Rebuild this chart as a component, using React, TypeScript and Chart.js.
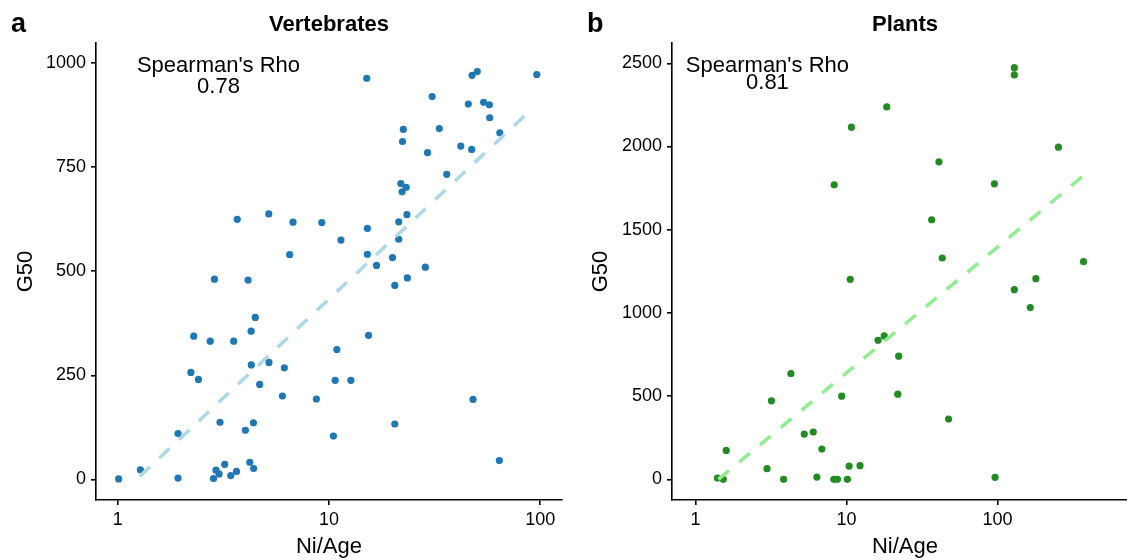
import React, { useEffect, useRef } from "react";
import { Chart, registerables } from "chart.js";

Chart.register(...registerables);

const FONT = '"Liberation Sans", Arial, Helvetica, sans-serif';

// ---------- Data ----------
const vertX = [
  3.68, 5.19, 6.76, 6.52, 2.87, 4.14, 4.48, 4.28, 2.29, 2.74, 3.54, 2.22, 2.41, 4.29, 5.2, 6.15,
  4.7, 6.02, 3.05, 4.39, 4.02, 1.93, 1.28, 1.01, 1.93, 3.21, 2.92, 3.02, 2.84, 3.43, 3.65, 4.22,
  4.4, 20.5, 23.5, 15.4, 10.9, 10.7, 12.7, 8.72, 48.1, 20.5, 10.5, 64.1, 15.1, 47.6, 50.4, 96.4,
  30.8, 45.7, 54.0, 57.5, 57.7, 64.4, 22.5, 22.3, 33.3, 42.1, 47.4, 29.3, 36.1, 21.9, 23.2, 22.2,
  23.4, 21.4, 21.4, 20.0, 28.6, 16.8, 15.2, 15.2, 11.4, 9.25,
];
const vertY = [
  625, 638, 618, 540, 481, 479, 389, 356, 344, 332, 332, 257, 240, 275, 281, 268,
  228, 200, 137, 136, 118, 110, 23, 1, 3, 36, 22, 13, 2, 9, 19, 41,
  26, 466, 484, 346, 312, 238, 238, 193, 192, 133, 104, 45, 964, 971, 980, 973,
  920, 902, 906, 900, 869, 833, 841, 812, 843, 801, 793, 785, 733, 711, 702, 691,
  636, 619, 577, 533, 510, 514, 541, 603, 575, 617,
];

const plantX = [
  10.6, 4.29, 3.19, 9.31, 5.26, 6.03, 6.88, 1.6, 2.98, 3.84, 6.37, 8.25, 8.72, 10.15, 10.42, 12.3,
  1.4, 1.53, 179.7, 129.4, 165, 16.2, 17.8, 22.2, 21.9, 47.5, 96.5, 10.8, 8.3, 129.4, 129.4, 18.5,
  253.6, 41.0, 95.5, 36.7, 43.1, 372,
];
const plantY = [
  1202, 636, 472, 500, 272, 284, 182, 174, 64, 0, 14, 0, 0, 0, 80, 82,
  8, 0, 1206, 1140, 1032, 836, 862, 740, 512, 362, 12, 2116, 1770, 2474, 2430, 2238,
  1996, 1908, 1776, 1560, 1330, 1308,
];

const vertTrendX = [1.27, 87.9];
const vertTrendY = [7, 882];
const plantTrendX = [1.42, 372];
const plantTrendY = [0, 1826];

const xTickValues = [1, 10, 100];
const vertYTicks = [0, 250, 500, 750, 1000];
const plantYTicks = [0, 500, 1000, 1500, 2000, 2500];

const panelLetters = ["a", "b"];
const panelTitles = ["Vertebrates", "Plants"];
const rhoLabel = "Spearman's Rho";
const rhoValues = ["0.78", "0.81"];
const rhoAnchorX = 3;
const xAxisTitle = "Ni/Age";
const yAxisTitle = "G50";

const toPoints = (xs: number[], ys: number[]) => xs.map((x, i) => ({ x, y: ys[i] }));

const textPlugin = {
  id: "panelText",
  afterDraw(chart: any, _args: any, opts: any) {
    const { ctx, chartArea, scales } = chart;
    ctx.save();
    ctx.fillStyle = "#000";
    ctx.textBaseline = "alphabetic";
    ctx.textAlign = "left";
    ctx.font = `bold 27px ${FONT}`;
    ctx.fillText(opts.letter, opts.letterX, 32);
    ctx.textAlign = "center";
    ctx.font = `bold 22px ${FONT}`;
    ctx.fillText(opts.title, (chartArea.left + chartArea.right) / 2, 31);
    ctx.font = `22px ${FONT}`;
    const ax = scales.x.getPixelForValue(opts.annotX);
    ctx.fillText(rhoLabel, ax, 72);
    ctx.fillText(opts.rho, ax, opts.rhoBaseline);
    ctx.restore();
  },
};

type PanelCfg = {
  width: number;
  yAxisWidth: number;
  padRight: number;
  pts: { x: number; y: number }[];
  trend: { x: number; y: number }[];
  pointColor: string;
  lineColor: string;
  xMin: number;
  xMax: number;
  yMin: number;
  yMax: number;
  yTicks: number[];
  letter: string;
  letterX: number;
  title: string;
  rho: string;
  rhoBaseline: number;
};

function Panel({ cfg, left }: { cfg: PanelCfg; left: number }) {
  const ref = useRef<HTMLCanvasElement>(null);
  useEffect(() => {
    if (!ref.current) return;
    const axisColor = "#000";
    const chart = new Chart(ref.current, {
      type: "scatter",
      data: {
        datasets: [
          {
            type: "line",
            data: cfg.trend,
            borderColor: cfg.lineColor,
            borderWidth: 3.5,
            borderDash: [14, 13],
            pointRadius: 0,
            fill: false,
            order: 0,
          } as any,
          {
            type: "scatter",
            data: cfg.pts,
            backgroundColor: cfg.pointColor,
            borderWidth: 0,
            pointRadius: 3.6,
            order: 1,
          },
        ],
      },
      options: {
        responsive: false,
        animation: false,
        devicePixelRatio: 1,
        layout: { padding: { top: 43, right: cfg.padRight, left: 0, bottom: 0 } },
        plugins: {
          legend: { display: false },
          tooltip: { enabled: false },
          panelText: {
            letter: cfg.letter,
            letterX: cfg.letterX,
            title: cfg.title,
            rho: cfg.rho,
            rhoBaseline: cfg.rhoBaseline,
            annotX: rhoAnchorX,
          },
        } as any,
        scales: {
          x: {
            type: "logarithmic",
            position: "bottom",
            min: cfg.xMin,
            max: cfg.xMax,
            afterBuildTicks: (s: any) => {
              s.ticks = xTickValues.map((v) => ({ value: v }));
            },
            afterFit: (s: any) => {
              s.height = 60;
            },
            ticks: {
              callback: (v: any) => String(v),
              color: "#000",
              font: { family: FONT, size: 18 },
              padding: 4,
              maxRotation: 0,
              autoSkip: false,
            },
            grid: {
              display: true,
              drawOnChartArea: false,
              drawTicks: true,
              tickLength: 5,
              color: axisColor,
              lineWidth: 1.6,
            },
            border: { display: true, color: axisColor, width: 1.6 },
            title: {
              display: true,
              text: xAxisTitle,
              color: "#000",
              font: { family: FONT, size: 22, lineHeight: 1 },
              padding: { top: 0, bottom: 2 },
            },
          },
          y: {
            type: "linear",
            position: "left",
            min: cfg.yMin,
            max: cfg.yMax,
            afterBuildTicks: (s: any) => {
              s.ticks = cfg.yTicks.map((v) => ({ value: v }));
            },
            afterFit: (s: any) => {
              s.width = cfg.yAxisWidth;
            },
            ticks: {
              callback: (v: any) => String(v),
              color: "#000",
              font: { family: FONT, size: 18 },
              padding: 5,
              autoSkip: false,
            },
            grid: {
              display: true,
              drawOnChartArea: false,
              drawTicks: true,
              tickLength: 5,
              color: axisColor,
              lineWidth: 1.6,
            },
            border: { display: true, color: axisColor, width: 1.6 },
            title: {
              display: true,
              text: yAxisTitle,
              color: "#000",
              font: { family: FONT, size: 22, lineHeight: 1 },
              padding: { top: 15, bottom: 0 },
            },
          },
        },
      },
      plugins: [textPlugin],
    });
    return () => chart.destroy();
  }, [cfg]);
  return (
    <canvas
      ref={ref}
      width={cfg.width}
      height={560}
      style={{ position: "absolute", left, top: 0, width: cfg.width, height: 560 }}
    />
  );
}

const panelA: PanelCfg = {
  width: 580,
  yAxisWidth: 96,
  padRight: 18,
  pts: toPoints(vertX, vertY),
  trend: toPoints(vertTrendX, vertTrendY),
  pointColor: "#1F77B4",
  lineColor: "#ADD8E6",
  xMin: 0.789,
  xMax: 126.9,
  yMin: -49.7,
  yMax: 1048.7,
  yTicks: vertYTicks,
  letter: panelLetters[0],
  letterX: 11,
  title: panelTitles[0],
  rho: rhoValues[0],
  rhoBaseline: 93,
};

const panelB: PanelCfg = {
  width: 575,
  yAxisWidth: 97,
  padRight: 12,
  pts: toPoints(plantX, plantY),
  trend: toPoints(plantTrendX, plantTrendY),
  pointColor: "#228B22",
  lineColor: "#90EE90",
  xMin: 0.724,
  xMax: 853,
  yMin: -124,
  yMax: 2622,
  yTicks: plantYTicks,
  letter: panelLetters[1],
  letterX: 12,
  title: panelTitles[1],
  rho: rhoValues[1],
  rhoBaseline: 89,
};

export default function App() {
  return (
    <div
      style={{
        position: "fixed",
        left: 0,
        top: 0,
        width: 1127,
        height: 560,
        overflow: "hidden",
        background: "#fff",
      }}
    >
      <Panel cfg={panelA} left={0} />
      <Panel cfg={panelB} left={575} />
    </div>
  );
}
